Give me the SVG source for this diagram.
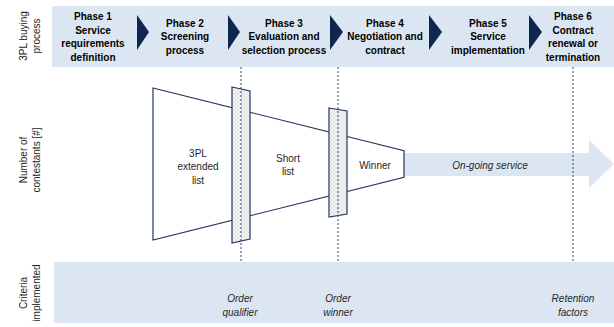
<svg xmlns="http://www.w3.org/2000/svg" width="614" height="327" viewBox="0 0 614 327">
<style>
.band{fill:#DCE6F2}
.chev{fill:#0F2650}
.ph{font-family:"Liberation Sans",Arial,sans-serif;font-size:10px;font-weight:bold;fill:#000;text-anchor:middle}
.lbl{font-family:"Liberation Sans",Arial,sans-serif;font-size:10px;fill:#262626;text-anchor:middle}
.it{font-family:"Liberation Sans",Arial,sans-serif;font-size:10px;font-style:italic;fill:#262626;text-anchor:middle}
.fun{fill:#fff;stroke:#1F3864;stroke-width:1.2}
.bar{fill:url(#hatch);stroke:#1F3864;stroke-width:1.2}
.dash{stroke:#2F4470;stroke-width:1;stroke-dasharray:2 2;fill:none}
</style>
<defs>
<pattern id="hatch" width="4" height="4" patternUnits="userSpaceOnUse">
<rect width="4" height="4" fill="#F7F7F7"/>
<path d="M0 0L4 4M4 0L0 4" stroke="#D2D2D2" stroke-width="0.6"/>
</pattern>
</defs>

<g id="buying-process">
<rect class="band" x="52" y="6" width="562" height="61"/>
<polygon class="chev" points="137,15 149,32 137,50"/>
<polygon class="chev" points="228,15 240,32 228,50"/>
<polygon class="chev" points="330,15 343,32 330,50"/>
<polygon class="chev" points="429,15 442,32 429,50"/>
<polygon class="chev" points="529,15 542,32 529,50"/>
<text class="ph"><tspan x="93" y="20">Phase 1</tspan><tspan x="93" y="33.5">Service</tspan><tspan x="93" y="47">requirements</tspan><tspan x="93" y="60.5">definition</tspan></text>
<text class="ph"><tspan x="185" y="26.5">Phase 2</tspan><tspan x="185" y="40">Screening</tspan><tspan x="185" y="53.5">process</tspan></text>
<text class="ph"><tspan x="284" y="26.5">Phase 3</tspan><tspan x="284" y="40">Evaluation and</tspan><tspan x="284" y="53.5">selection process</tspan></text>
<text class="ph"><tspan x="385" y="26.5">Phase 4</tspan><tspan x="385" y="40">Negotiation and</tspan><tspan x="385" y="53.5">contract</tspan></text>
<text class="ph"><tspan x="488" y="26.5">Phase 5</tspan><tspan x="488" y="40">Service</tspan><tspan x="488" y="53.5">implementation</tspan></text>
<text class="ph"><tspan x="573" y="20">Phase 6</tspan><tspan x="573" y="33.5">Contract</tspan><tspan x="573" y="47">renewal or</tspan><tspan x="573" y="60.5">termination</tspan></text>
</g>

<g id="criteria-band">
<rect class="band" x="54" y="262" width="560" height="61"/>
</g>

<g id="row-labels">
<text class="lbl" transform="translate(30,36) rotate(-90)"><tspan x="0" y="-3">3PL buying</tspan><tspan x="0" y="10">process</tspan></text>
<text class="lbl" transform="translate(30,160) rotate(-90)"><tspan x="0" y="-3">Number of</tspan><tspan x="0" y="10">contestants [#]</tspan></text>
<text class="lbl" transform="translate(30,293) rotate(-90)"><tspan x="0" y="-3">Criteria</tspan><tspan x="0" y="10">implemented</tspan></text>
</g>

<g id="ongoing-service">
<polygon fill="#DCE6F2" points="404,153 589,153 589,140 614,164 589,188 589,176 404,176"/>
<text class="it" x="490" y="168.5">On-going service</text>
</g>

<g id="extended-list">
<polygon class="fun" points="153,88 241,110 241,218 153,240"/>
<text class="lbl"><tspan x="198" y="156.5">3PL</tspan><tspan x="198" y="170">extended</tspan><tspan x="198" y="183.5">list</tspan></text>
</g>
<g id="short-list">
<polygon class="fun" points="241,110 338,134.25 338,193.75 241,218"/>
<text class="lbl"><tspan x="288" y="161.5">Short</tspan><tspan x="288" y="175">list</tspan></text>
</g>
<g id="winner">
<polygon class="fun" points="338,134.25 404,150.75 404,177.25 338,193.75"/>
<text class="lbl" x="375" y="168.5">Winner</text>
</g>
<g id="gate-1">
<polygon class="bar" points="232,87 250,91 250,239 232,243"/>
</g>
<g id="gate-2">
<polygon class="bar" points="329,108 347,111 347,214 329,217"/>
</g>

<g id="connectors">
<line class="dash" x1="241" y1="67" x2="241" y2="262"/>
<line class="dash" x1="338" y1="67" x2="338" y2="262"/>
<line class="dash" x1="573" y1="67" x2="573" y2="262"/>
</g>

<g id="criteria">
<text class="it"><tspan x="240" y="301.5">Order</tspan><tspan x="240" y="315.5">qualifier</tspan></text>
<text class="it"><tspan x="338" y="301.5">Order</tspan><tspan x="338" y="315.5">winner</tspan></text>
<text class="it"><tspan x="573" y="301.5">Retention</tspan><tspan x="573" y="315.5">factors</tspan></text>
</g>
</svg>
